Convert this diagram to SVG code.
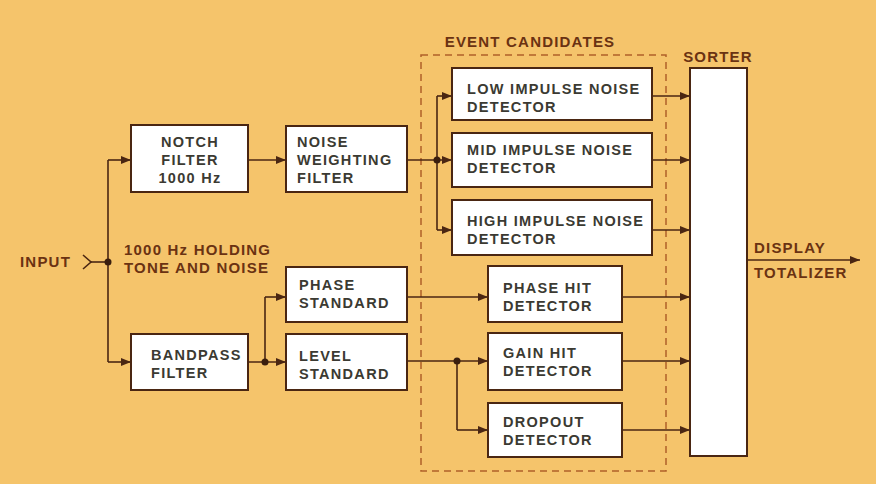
<svg xmlns="http://www.w3.org/2000/svg" width="876" height="484" viewBox="0 0 876 484">
<defs>
<marker id="ah" markerWidth="11" markerHeight="9" refX="10" refY="4.5" orient="auto" markerUnits="userSpaceOnUse">
<path d="M0,0.5 L10,4.5 L0,8.5 Z" fill="#4a2612"/>
</marker>
<style>
.bx{fill:#ffffff;stroke:#4a2612;stroke-width:2}
.t{font-family:"Liberation Sans",Arial,sans-serif;font-weight:bold;font-size:14.5px;letter-spacing:1.3px;fill:#3b3a32}
.lb{font-family:"Liberation Sans",Arial,sans-serif;font-weight:bold;font-size:15px;letter-spacing:1.2px;fill:#6a3212}
.c{fill:none;stroke:#4a2612;stroke-width:1.6}
.a{marker-end:url(#ah)}
.dot{fill:#3a1e0e}
</style>
</defs>
<rect x="0" y="0" width="876" height="484" fill="#F5C46B"/>

<g id="event-candidates">
<rect x="421" y="55" width="245" height="416" fill="none" stroke="#b0602a" stroke-width="1.5" stroke-dasharray="7,5"/>
<text class="lb" x="530" y="47" text-anchor="middle">EVENT CANDIDATES</text>
</g>

<g id="connectors">
<path class="c" d="M83,255 L91,262 L83,269"/>
<path class="c" d="M91,262 H108"/>
<path class="c" d="M108,160 V362"/>
<path class="c a" d="M108,160 H131"/>
<path class="c a" d="M108,362 H131"/>
<path class="c a" d="M248,160 H286"/>
<path class="c a" d="M407,160 H452"/>
<path class="c" d="M437,96 V230"/>
<path class="c a" d="M437,96 H452"/>
<path class="c a" d="M437,230 H452"/>
<path class="c a" d="M248,362 H286"/>
<path class="c" d="M265,362 V297"/>
<path class="c a" d="M265,297 H286"/>
<path class="c a" d="M407,297 H488"/>
<path class="c a" d="M407,361 H488"/>
<path class="c" d="M457,361 V430"/>
<path class="c a" d="M457,430 H488"/>
<path class="c a" d="M652,96 H690"/>
<path class="c a" d="M652,160 H690"/>
<path class="c a" d="M652,230 H690"/>
<path class="c a" d="M622,297 H690"/>
<path class="c a" d="M622,361 H690"/>
<path class="c a" d="M622,430 H690"/>
<path class="c a" d="M747,260 H860"/>
<circle class="dot" cx="108" cy="262" r="3.5"/>
<circle class="dot" cx="437" cy="160" r="3.5"/>
<circle class="dot" cx="265" cy="362" r="3.5"/>
<circle class="dot" cx="457" cy="361" r="3.5"/>
</g>

<g id="input">
<text class="lb" x="20" y="267">INPUT</text>
</g>
<g id="signal-label">
<text class="lb" x="124" y="255">1000 Hz HOLDING</text>
<text class="lb" x="124" y="273">TONE AND NOISE</text>
</g>

<g id="notch-filter">
<rect class="bx" x="131" y="125" width="117" height="67"/>
<text class="t" x="190" y="147" text-anchor="middle">NOTCH</text>
<text class="t" x="190" y="165" text-anchor="middle">FILTER</text>
<text class="t" x="190" y="183" text-anchor="middle">1000 Hz</text>
</g>

<g id="bandpass-filter">
<rect class="bx" x="131" y="334" width="117" height="56"/>
<text class="t" x="151" y="360">BANDPASS</text>
<text class="t" x="151" y="378">FILTER</text>
</g>

<g id="noise-weighting-filter">
<rect class="bx" x="286" y="126" width="121" height="66"/>
<text class="t" x="297" y="147">NOISE</text>
<text class="t" x="297" y="165">WEIGHTING</text>
<text class="t" x="297" y="183">FILTER</text>
</g>

<g id="phase-standard">
<rect class="bx" x="286" y="267" width="121" height="55"/>
<text class="t" x="299" y="290">PHASE</text>
<text class="t" x="299" y="308">STANDARD</text>
</g>

<g id="level-standard">
<rect class="bx" x="286" y="334" width="121" height="56"/>
<text class="t" x="299" y="361">LEVEL</text>
<text class="t" x="299" y="379">STANDARD</text>
</g>

<g id="low-impulse">
<rect class="bx" x="452" y="68" width="200" height="52"/>
<text class="t" x="467" y="94">LOW IMPULSE NOISE</text>
<text class="t" x="467" y="112">DETECTOR</text>
</g>

<g id="mid-impulse">
<rect class="bx" x="452" y="133" width="200" height="54"/>
<text class="t" x="467" y="155">MID IMPULSE NOISE</text>
<text class="t" x="467" y="173">DETECTOR</text>
</g>

<g id="high-impulse">
<rect class="bx" x="452" y="200" width="200" height="55"/>
<text class="t" x="467" y="226">HIGH IMPULSE NOISE</text>
<text class="t" x="467" y="244">DETECTOR</text>
</g>

<g id="phase-hit">
<rect class="bx" x="488" y="266" width="134" height="56"/>
<text class="t" x="503" y="293">PHASE HIT</text>
<text class="t" x="503" y="311">DETECTOR</text>
</g>

<g id="gain-hit">
<rect class="bx" x="488" y="333" width="134" height="57"/>
<text class="t" x="503" y="358">GAIN HIT</text>
<text class="t" x="503" y="376">DETECTOR</text>
</g>

<g id="dropout">
<rect class="bx" x="488" y="403" width="134" height="54"/>
<text class="t" x="503" y="427">DROPOUT</text>
<text class="t" x="503" y="445">DETECTOR</text>
</g>

<g id="sorter">
<rect class="bx" x="690" y="68" width="57" height="388"/>
<text class="lb" x="718" y="62" text-anchor="middle">SORTER</text>
</g>

<g id="output">
<text class="lb" x="754" y="253">DISPLAY</text>
<text class="lb" x="754" y="278">TOTALIZER</text>
</g>
</svg>
